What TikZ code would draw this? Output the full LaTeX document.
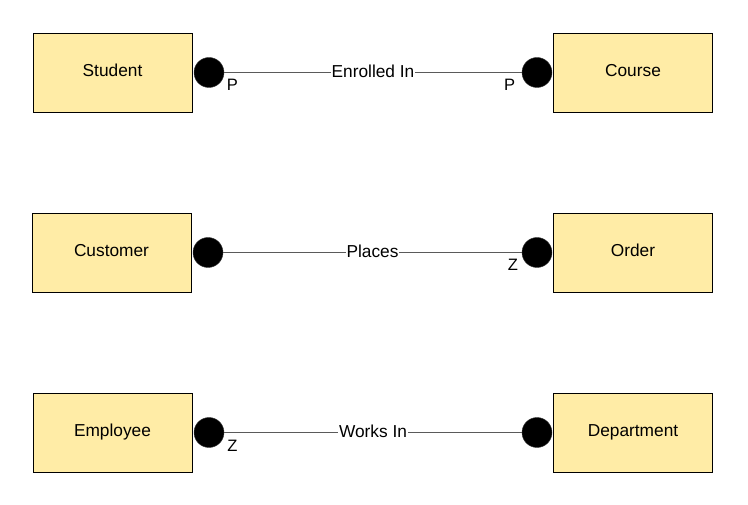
\documentclass[tikz,border=0pt]{standalone}
\usepackage{fontspec}
\setmainfont{Liberation Sans}
\definecolor{boxfill}{RGB}{255,236,166}
\definecolor{linegray}{RGB}{90,90,90}
\begin{document}
\begin{tikzpicture}[x=1pt,y=-1pt,
  entity/.style={draw=black,line width=1pt,fill=boxfill,minimum width=159pt,minimum height=79pt,inner sep=0pt,font=\fontsize{17.3}{19}\selectfont,text height=12.5pt,text depth=5pt},
  dot/.style={circle,fill=black,draw=black!80,minimum size=30pt,inner sep=0pt},
  rel/.style={draw=linegray,line width=1pt},
  rlabel/.style={fill=white,inner sep=1pt,font=\fontsize{17.3}{19}\selectfont,yshift=1.5pt},
  card/.style={inner sep=0pt,font=\fontsize{16.5}{19}\selectfont}]
\useasboundingbox[fill=white] (0,0) rectangle (748,505);
% row 1
\node[entity] (student) at (112.5,73) {Student};
\node[entity] (course) at (633,73) {Course};
\node[dot] (d1) at (209,72.5) {};
\node[dot] (d2) at (537,72.5) {};
\draw[rel] (d1) -- node[rlabel] (l1) {Enrolled In} (d2);
\node[card] (p1) at (232.5,85) {P};
\node[card] (p2) at (509.5,85) {P};
% row 2
\node[entity] (customer) at (111.5,253) {Customer};
\node[entity] (order) at (633,253) {Order};
\node[dot] (d3) at (208,252.5) {};
\node[dot] (d4) at (537,252.5) {};
\draw[rel] (d3) -- node[rlabel] (l2) {Places} (d4);
\node[card] (z1) at (513,265) {Z};
% row 3
\node[entity] (employee) at (112.5,433) {Employee};
\node[entity] (department) at (633,433) {Department};
\node[dot] (d5) at (209,432.5) {};
\node[dot] (d6) at (537,432.5) {};
\draw[rel] (d5) -- node[rlabel] (l3) {Works In} (d6);
\node[card] (z2) at (232.5,446) {Z};
\end{tikzpicture}
\end{document}
